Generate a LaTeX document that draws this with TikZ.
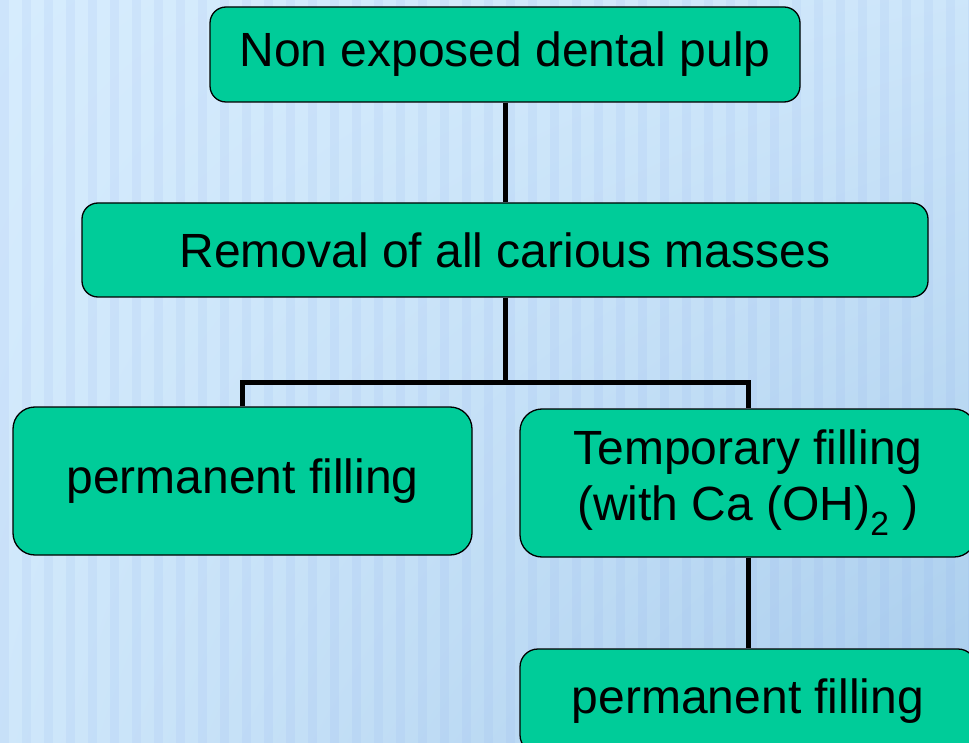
\documentclass[tikz,border=0pt]{standalone}
\usepackage{fontspec}
\setmainfont{Liberation Sans}
\usetikzlibrary{shadings}
\definecolor{boxgreen}{RGB}{0,204,153}
\definecolor{skylight}{RGB}{214,236,253}
\definecolor{skydark}{RGB}{168,204,236}

\begin{document}
\begin{tikzpicture}[x=1pt, y=-1pt,
    flowbox/.style={draw=black, fill=boxgreen, line width=1.3pt, rounded corners=22pt,
        align=center, inner sep=0pt, font=\fontsize{48}{56}\selectfont},
    link/.style={line width=5pt}]
    % page and background
    \useasboundingbox (0,0) rectangle (969,743);
    \clip (0,0) rectangle (969,743);
    \shade[upper left=skylight, upper right=skylight!80!skydark,
           lower left=skylight!85!skydark, lower right=skydark] (0,0) rectangle (969,743);
    \foreach \sx in {0,22,...,968}
        \fill[skydark!80!blue, opacity=0.10] (\sx,0) rectangle ++(9,743);

    % boxes
    \node[flowbox, minimum width=590pt, minimum height=95pt, rounded corners=16pt] (pulp) at (505,54.5) {Non exposed dental pulp};
    \node[flowbox, minimum width=846pt, minimum height=94pt, rounded corners=16pt] (removal) at (505,250) {Removal of all carious masses};
    \node[flowbox, minimum width=459pt, minimum height=148pt] (perm) at (242.5,481) {permanent filling};
    \node[flowbox, minimum width=456pt, minimum height=148pt] (temp) at (748,483)
        {Temporary filling\\ (with Ca (OH)\textsubscript{2} )};
    \node[flowbox, minimum width=456pt, minimum height=104pt, rounded corners=18pt] (permlater) at (748,701) {permanent filling};

    % connectors
    \coordinate (fork) at (505,382);
    \draw[link] (pulp) -- (removal);
    \draw[link] (removal) -- (fork);
    \draw[link] (perm.north) |- (fork) -| (temp.north);
    \draw[link] (temp) -- (permlater);
\end{tikzpicture}
\end{document}
